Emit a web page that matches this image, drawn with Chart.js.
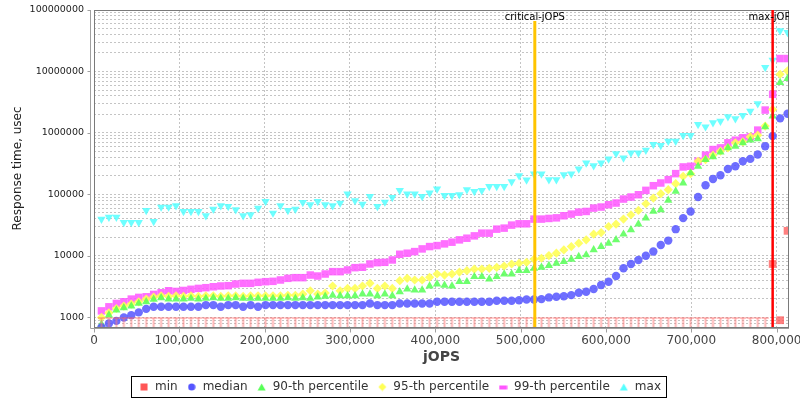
<!DOCTYPE html>
<html>
<head>
<meta charset="utf-8">
<script src="https://cdn.jsdelivr.net/npm/chart.js@4/dist/chart.umd.min.js"></script>
<style>
html,body{margin:0;padding:0;background:#fff;}
#wrap{width:800px;height:400px;}
</style>
</head>
<body>
<div id="wrap"><canvas id="c" width="800" height="400"></canvas></div>
<script>
// ---- data ----
const jops = [8740,17480,26220,34960,43700,52440,61180,69920,78660,87400,
  96140,104880,113620,122360,131100,139840,148580,157320,166060,174800,
  183540,192280,201020,209760,218500,227240,235980,244720,253460,262200,
  270940,279680,288420,297160,305900,314640,323380,332120,340860,349600,
  358340,367080,375820,384560,393300,402040,410780,419520,428260,437000,
  445740,454480,463220,471960,480700,489440,498180,506920,515660,524400,
  533140,541880,550620,559360,568100,576840,585580,594320,603060,611800,
  620540,629280,638020,646760,655500,664240,672980,681720,690460,699200,
  707940,716680,725420,734160,742900,751640,760380,769120,777860,786600,
  795340,804080,812820];

const minRT = [1000,1000,1000,1000,1000,1000,1000,1000,1000,1000,
  1000,1000,1000,1000,1000,1000,1000,1000,1000,1000,
  1000,1000,1000,1000,1000,1000,1000,1000,1000,1000,
  1000,1000,1000,1000,1000,1000,1000,1000,1000,1000,
  1000,1000,1000,1000,1000,1000,1000,1000,1000,1000,
  1000,1000,1000,1000,1000,1000,1000,1000,1000,1000,
  1000,1000,1000,1000,1000,1000,1000,1000,1000,1000,
  1000,1000,1000,1000,1000,1000,1000,1000,1000,1000,
  1000,1000,1000,1000,1000,1000,1000,1000,1000,1000,
  7410,903,25650];

const medianRT = [690,800,880,1000,1090,1210,1380,1490,1490,1490,
  1490,1490,1490,1490,1590,1590,1490,1590,1590,1490,
  1590,1490,1590,1590,1590,1590,1590,1590,1590,1590,
  1590,1590,1590,1590,1590,1590,1690,1590,1590,1590,
  1690,1690,1690,1690,1690,1800,1800,1800,1800,1800,
  1800,1800,1800,1870,1870,1870,1910,1960,1960,1990,
  2120,2170,2220,2310,2520,2620,2900,3370,3820,4720,
  6310,7410,8610,10100,11800,15100,17800,27300,41300,53000,
  90900,141000,179000,205000,260000,288000,347000,379000,446000,609000,
  889000,1730000,2060000];

const p90RT = [777,1090,1320,1430,1530,1690,1800,1970,2090,1990,
  1990,1990,2040,1990,2040,2090,2040,2040,2090,2040,
  2040,2040,2040,2040,2040,2090,2040,2090,2040,2150,
  2200,2300,2255,2255,2255,2400,2400,2255,2400,2255,
  2620,2900,2790,2790,3250,3500,3330,3250,3820,3820,
  4600,4600,4220,4600,5090,5090,5770,5770,6310,6550,
  6970,7610,8090,8850,9780,10400,12550,14200,16100,18300,
  22600,26600,32900,41300,53000,56500,80200,112500,153700,224000,
  288000,370000,409000,487000,573000,609000,692000,764000,805000,1260000,
  1880000,6610000,7680000];

const p95RT = [1000,1190,1400,1530,1650,1800,1990,2145,2255,2200,
  2255,2200,2255,2200,2255,2255,2200,2255,2255,2200,
  2255,2255,2255,2255,2255,2300,2300,2400,2720,2400,
  2500,3250,2720,2970,2970,3250,3590,2970,3250,2970,
  3960,4330,4065,4065,4500,5090,4900,5090,5480,5770,
  6135,6135,6310,6550,6870,7410,7610,7890,8850,9190,
  10150,11090,12550,14220,16140,18280,22620,24040,30130,32910,
  39800,46800,55100,70700,87400,103000,119700,150000,197700,218300,
  346700,369800,435600,505900,572800,691500,717600,866700,922000,1294000,
  2421000,9016000,10240000];

const p99RT = [1280,1490,1690,1800,1990,2120,2170,2370,2520,2720,
  2650,2750,2870,2970,3050,3160,3250,3290,3500,3590,
  3590,3730,3820,3870,4070,4330,4440,4440,4900,4720,
  5090,5560,5560,5920,6460,6550,7410,7790,7890,8610,
  10660,11090,11780,13030,14220,14760,15730,16760,18280,19450,
  21230,23500,23500,27310,28380,31770,33360,33360,39800,39800,
  40770,41700,45100,48000,51600,53000,60100,62500,68100,72600,
  84300,90900,99100,116700,139000,153700,174300,218300,280500,287700,
  346700,435600,538000,572800,691500,764000,835500,866700,1114000,2360000,
  4255000,16250000,16250000];

const maxRT = [39800,42900,42900,35100,35100,35100,55100,36400,62500,62500,
  65600,53000,53000,53000,45100,57900,65600,64000,56500,45100,
  46800,60100,77300,49900,65600,55100,57900,74300,68100,77300,
  68100,65600,72600,101800,79100,69800,93100,64000,75300,89700,
  116700,101800,101800,93100,105700,122700,96600,96600,99600,119700,
  112500,116700,135500,135500,135500,161600,202800,172200,216000,216000,
  174300,174300,210400,216000,260500,326500,295000,326500,379000,463000,
  393700,475700,475700,525000,649700,625500,736000,736000,911000,911000,
  1377000,1262000,1466000,1560000,1840000,1706000,1932000,2274000,3000000,11620000,
  15280000,46000000,43200000];

const seriesNames = ['min','median','90-th percentile','95-th percentile','99-th percentile','max'];
const xTickValues = [0,100000,200000,300000,400000,500000,600000,700000,800000];
const yLabelValues = [1000,10000,100000,1000000,10000000,100000000];
const criticalJOPS = 516600;
const maxJOPS = 795340;

// ---- styles ----
const colors = {
  min: 'rgba(255,85,85,0.75)',
  median: 'rgba(85,85,255,0.85)',
  p90: 'rgba(85,255,85,0.85)',
  p95: 'rgba(255,255,85,0.9)',
  p99: 'rgba(255,85,255,0.85)',
  max: 'rgba(85,255,255,0.85)'
};

function mkCanvas(w, h, draw) {
  const c = document.createElement('canvas');
  c.width = w; c.height = h;
  draw(c.getContext('2d'));
  return c;
}
// "T" shaped min marker (as seen at the bottom of the plot)
const tMark = mkCanvas(9, 20, g => {
  g.fillStyle = 'rgba(255,95,95,0.8)';
  g.fillRect(1, 10, 7, 1);
  g.fillStyle = 'rgba(255,120,120,0.55)';
  g.fillRect(3.5, 11, 2, 9);
});
// legend icons
const legendIcons = [
  mkCanvas(8, 8, g => { g.fillStyle = '#FF5555'; g.fillRect(0.5, 0.5, 7, 7); }),
  mkCanvas(8, 8, g => { g.fillStyle = '#5555FF'; g.beginPath(); g.arc(4, 4, 3.6, 0, Math.PI * 2); g.fill(); }),
  mkCanvas(9, 8, g => { g.fillStyle = '#55FF55'; g.beginPath(); g.moveTo(4.5, 0.5); g.lineTo(8.5, 7.5); g.lineTo(0.5, 7.5); g.closePath(); g.fill(); }),
  mkCanvas(9, 9, g => { g.fillStyle = '#FFFF55'; g.beginPath(); g.moveTo(4.5, 0.5); g.lineTo(8.5, 4.5); g.lineTo(4.5, 8.5); g.lineTo(0.5, 4.5); g.closePath(); g.fill(); }),
  mkCanvas(9, 8, g => { g.fillStyle = '#FF55FF'; g.fillRect(0.5, 2.5, 8, 4); }),
  mkCanvas(9, 8, g => { g.fillStyle = '#55FFFF'; g.beginPath(); g.moveTo(0.5, 0.5); g.lineTo(8.5, 0.5); g.lineTo(4.5, 7.5); g.closePath(); g.fill(); })
];

function pts(arr) { return jops.map((x, i) => ({ x: x, y: arr[i] })); }

const FONT = 'DejaVu Sans';

const decor = {
  id: 'decor',
  afterDatasetsDraw(chart) {
    const { ctx, chartArea: a, scales } = chart;
    const x = scales.x;
    ctx.save();
    // plot frame
    ctx.strokeStyle = '#7a7a7a';
    ctx.lineWidth = 1;
    ctx.strokeRect(Math.round(a.left) + 0.5, Math.round(a.top) + 0.5,
      Math.round(a.right - a.left) - 1, Math.round(a.bottom - a.top));
    // axis lines (offset from the plot like the original)
    ctx.strokeStyle = '#a0a0a0';
    ctx.beginPath();
    const axX = Math.round(a.left) - 3.5;
    const axY = Math.round(a.bottom) + 1.5;
    ctx.moveTo(axX, a.top); ctx.lineTo(axX, axY);
    ctx.moveTo(axX, axY); ctx.lineTo(a.right, axY);
    const y = scales.y;
    yLabelValues.forEach(v => {
      const py = Math.round(y.getPixelForValue(v)) + 0.5;
      ctx.moveTo(axX - 3, py); ctx.lineTo(axX, py);
    });
    xTickValues.forEach(v => {
      const px = Math.round(x.getPixelForValue(v)) + 0.5;
      ctx.moveTo(px, axY); ctx.lineTo(px, axY + 4);
    });
    ctx.stroke();

    // marker lines
    ctx.beginPath();
    ctx.rect(a.left, a.top, a.right - a.left, a.bottom - a.top);
    ctx.clip();
    const xc = x.getPixelForValue(criticalJOPS);
    const xm = x.getPixelForValue(maxJOPS);
    ctx.strokeStyle = '#FFC400';
    ctx.lineWidth = 3;
    ctx.beginPath(); ctx.moveTo(xc, a.top + 11); ctx.lineTo(xc, a.bottom); ctx.stroke();
    ctx.strokeStyle = '#FF0000';
    ctx.lineWidth = 2.5;
    ctx.beginPath(); ctx.moveTo(xm, a.top); ctx.lineTo(xm, a.bottom); ctx.stroke();
    ctx.fillStyle = '#000';
    ctx.font = '10px "' + FONT + '"';
    ctx.textAlign = 'center';
    ctx.textBaseline = 'middle';
    ctx.fillText('critical-jOPS', xc, a.top + 7);
    ctx.fillText('max-jOPS', xm, a.top + 7);
    ctx.restore();
  },
  afterDraw(chart) {
    const hb = chart.legend && chart.legend.legendHitBoxes;
    if (!hb || !hb.length) return;
    const { ctx } = chart;
    const last = hb[hb.length - 1];
    const l = Math.round(hb[0].left) - 7.5;
    const r = Math.round(last.left + last.width) + 5.5;
    const t = Math.round(hb[0].top) - 4.5;
    const b = Math.round(hb[0].top + hb[0].height) + 4.5;
    ctx.save();
    ctx.strokeStyle = '#000';
    ctx.lineWidth = 1;
    ctx.strokeRect(l, t, r - l, b - t);
    ctx.restore();
  }
};

const ds = (label, arr, color, style, radius, extra) => Object.assign({
  label: label,
  data: pts(arr),
  showLine: false,
  pointStyle: style,
  pointRadius: radius,
  pointHoverRadius: radius,
  backgroundColor: color,
  borderColor: color,
  pointBorderWidth: 0,
  borderWidth: 0
}, extra || {});

new Chart(document.getElementById('c'), {
  type: 'scatter',
  data: {
    datasets: [
      ds(seriesNames[0], minRT, colors.min,
        c => (c.raw && c.raw.y === 1000 ? tMark : 'rect'), 5.5),
      ds(seriesNames[1], medianRT, colors.median, 'circle', 4.2),
      ds(seriesNames[2], p90RT, colors.p90, 'triangle', 4.8),
      ds(seriesNames[3], p95RT, colors.p95, 'rectRot', 4.6),
      ds(seriesNames[4], p99RT, colors.p99, 'rect', 5.3),
      ds(seriesNames[5], maxRT, colors.max, 'triangle', 4.8, { pointRotation: 180 })
    ]
  },
  plugins: [decor],
  options: {
    responsive: false,
    animation: false,
    devicePixelRatio: 1,
    layout: { padding: { left: 11, right: 11, top: 10, bottom: -3 } },
    plugins: {
      tooltip: { enabled: false },
      legend: {
        position: 'bottom',
        labels: {
          usePointStyle: true,
          pointStyleWidth: 10,
          boxHeight: 8,
          padding: 9,
          color: '#333',
          font: { family: FONT, size: 12 },
          generateLabels(chart) {
            const items = Chart.defaults.plugins.legend.labels.generateLabels(chart);
            items.forEach((it, i) => { it.pointStyle = legendIcons[i]; it.lineWidth = 0; });
            return items;
          }
        }
      }
    },
    scales: {
      x: {
        type: 'linear',
        min: 0,
        max: 814500,
        afterBuildTicks: ax => { ax.ticks = xTickValues.map(v => ({ value: v })); },
        afterFit: sc => { sc.height = 45; sc.paddingLeft = 0; sc.paddingRight = 0; },
        ticks: {
          autoSkip: false,
          maxRotation: 0,
          padding: 7,
          color: '#444',
          font: { family: FONT, size: 12 },
          callback: v => Number(v).toLocaleString('en-US')
        },
        grid: { color: '#c4c4c4', lineWidth: 1, drawTicks: false },
        border: { display: false, dash: [2, 2] },
        title: {
          display: true,
          text: 'jOPS',
          color: '#444',
          font: { family: FONT, size: 14, weight: 'bold' },
          padding: { top: 0, bottom: 6 }
        }
      },
      y: {
        type: 'logarithmic',
        min: 700,
        max: 100000000,
        afterBuildTicks: ax => {
          const t = [];
          for (let e = 2; e <= 7; e++) {
            for (let m = 1; m <= 9; m++) {
              const v = m * Math.pow(10, e);
              if (v >= 700 && v <= 100000000) t.push({ value: v });
            }
          }
          t.push({ value: 100000000 });
          ax.ticks = t;
        },
        afterFit: sc => { sc.width = 83; sc.paddingTop = 0; sc.paddingBottom = 0; },
        ticks: {
          autoSkip: false,
          padding: 10,
          color: '#222',
          font: { family: FONT, size: 9.5 },
          callback: v => (yLabelValues.indexOf(Number(v)) >= 0 ? String(v) : '')
        },
        grid: { color: '#c4c4c4', lineWidth: 1, drawTicks: false },
        border: { display: false, dash: [2, 2] },
        title: {
          display: true,
          text: 'Response time, usec',
          color: '#222',
          font: { family: FONT, size: 12 },
          padding: { top: 0, bottom: 0 }
        }
      }
    }
  }
});
</script>
</body>
</html>
